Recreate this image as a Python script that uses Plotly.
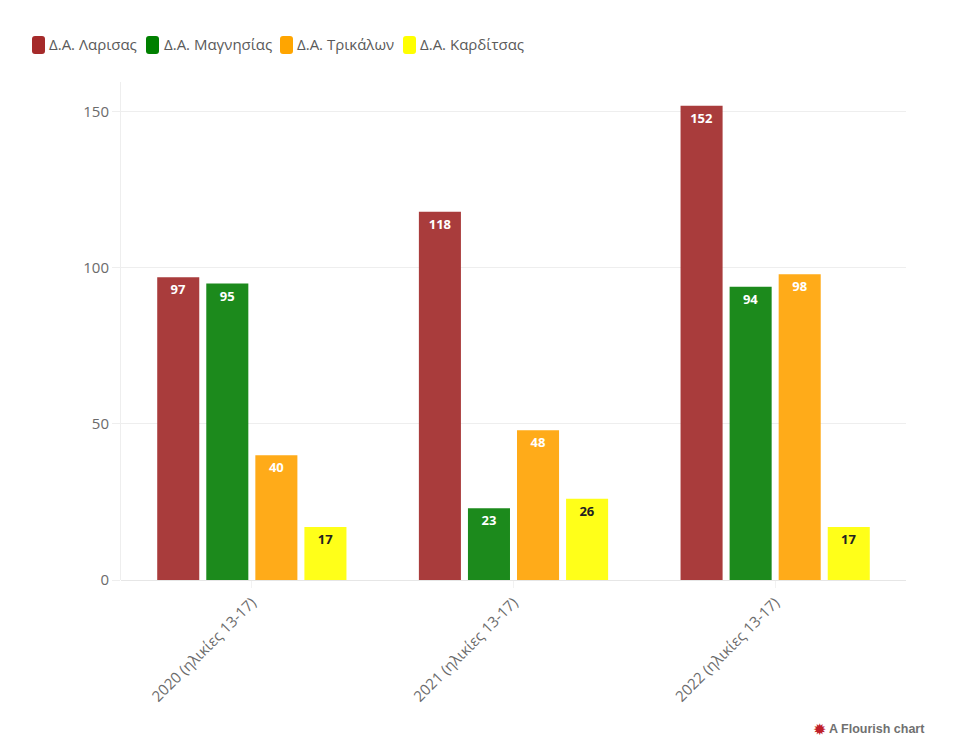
import plotly.graph_objects as go

years = ["2020 (ηλικίες 13-17)", "2021 (ηλικίες 13-17)", "2022 (ηλικίες 13-17)"]
names = ["Δ.Α. Λαρισας", "Δ.Α. Μαγνησίας", "Δ.Α. Τρικάλων", "Δ.Α. Καρδίτσας"]
larisa = [97, 118, 152]
magnisia = [95, 23, 94]
trikala = [40, 48, 98]
karditsa = [17, 26, 17]
series = [larisa, magnisia, trikala, karditsa]
colors = ["#a93c3c", "#1c8a1c", "#ffab19", "#ffff19"]
legend_colors = ["#a52a2a", "#008000", "#ffa500", "#ffff00"]
text_colors = ["white", "white", "white", "#222222"]
FONT = "Open Sans"

# page pixel positions (body has an 8 px margin)
OFF = 8
L, R, T, B = 121, 906, 82, 580
W, H = 960 - 2 * OFF, 746 - OFF - 2
def px(x): return (x - L) / (R - L)
def py(y): return (B - y) / (B - T)

legend_swatch_x = [32, 146, 280, 403]
legend_text_x = [48, 163, 296, 419]
LEG_Y = 45

def rounded(x0, x1, y0, y1, r=3):
    a, b, c, d = px(x0), px(x1), py(y0), py(y1)
    rx, ry = r / (R - L), r / (B - T)
    return (f"M{a+rx},{c} L{b-rx},{c} Q{b},{c} {b},{c-ry} L{b},{d+ry} Q{b},{d} {b-rx},{d} "
            f"L{a+rx},{d} Q{a},{d} {a},{d+ry} L{a},{c-ry} Q{a},{c} {a+rx},{c} Z")

fig = go.Figure()
for name, vals, col, tc in zip(names, series, colors, text_colors):
    fig.add_trace(go.Bar(
        name=name, x=years, y=vals, marker=dict(color=col, line=dict(width=0)),
        text=vals, textposition="inside", insidetextanchor="end", textangle=0,
        constraintext="none",
        textfont=dict(family=FONT, size=13, color=tc, weight="bold"),
        hoverinfo="x+y+name",
    ))

shapes = [dict(type="path", xref="paper", yref="paper", layer="above",
               path=rounded(x, x + 13, LEG_Y - 9, LEG_Y + 9),
               fillcolor=c, line=dict(width=0))
          for x, c in zip(legend_swatch_x, legend_colors)]
annotations = [dict(text=n, xref="paper", yref="paper", x=px(x), y=py(LEG_Y - 1),
                    xanchor="left", yanchor="middle", showarrow=False, borderpad=0,
                    font=dict(family=FONT, size=15, color="#5a5a5a"))
               for n, x in zip(names, legend_text_x)]
annotations += [
    dict(text="<b>A Flourish chart</b>", xref="paper", yref="paper",
         x=px(926), y=py(729), xanchor="right", yanchor="middle", showarrow=False, borderpad=0,
         font=dict(family="Liberation Sans", size=12.5, color="#707070")),
    dict(text="✹", xref="paper", yref="paper",
         x=px(819), y=py(729), xanchor="center", yanchor="middle", showarrow=False,
         font=dict(family="DejaVu Sans", size=16, color="#c0202a")),
]

fig.update_layout(
    width=W, height=H, autosize=False,
    margin=dict(l=L - OFF, r=W - (R - OFF), t=T - OFF, b=H - (B - OFF), pad=0),
    paper_bgcolor="white", plot_bgcolor="white",
    barmode="group", bargap=0.25, bargroupgap=0.143,
    font=dict(family=FONT, size=15, color="#6b6b6b"),
    showlegend=False,
    xaxis=dict(tickangle=-45, showgrid=False, ticks="outside", ticklen=7, tickcolor="#f2f2f2",
               showline=False, tickfont=dict(size=15, color="#6b6b6b")),
    yaxis=dict(range=[0, 159.6], tickvals=[0, 50, 100, 150], showgrid=True,
               gridcolor="#eeeeee", gridwidth=1, zeroline=True, zerolinecolor="#e6e6e6",
               zerolinewidth=1, showline=True, linecolor="#eeeeee", linewidth=1,
               ticks="outside", ticklen=8, tickcolor="#eeeeee",
               tickfont=dict(size=15, color="#6b6b6b")),
    shapes=shapes,
    annotations=annotations,
)
fig.write_html("out.html")
